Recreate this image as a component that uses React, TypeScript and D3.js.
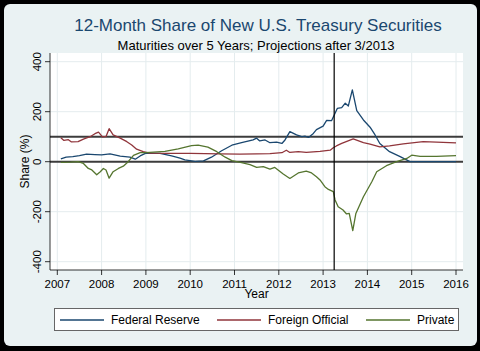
import React from "react";
import * as d3 from "d3";

const fedYears = [2007.08, 2007.2, 2007.35, 2007.5, 2007.66, 2007.85, 2008.0, 2008.19, 2008.42, 2008.64, 2008.76, 2008.87, 2009.0, 2009.32, 2009.58, 2009.77, 2009.88, 2010.11, 2010.3, 2010.48, 2010.71, 2010.94, 2011.16, 2011.35, 2011.42, 2011.5, 2011.57, 2011.69, 2011.8, 2011.95, 2012.07, 2012.14, 2012.25, 2012.4, 2012.52, 2012.59, 2012.67, 2012.78, 2012.85, 2013.0, 2013.08, 2013.19, 2013.27, 2013.32, 2013.42, 2013.5, 2013.57, 2013.66, 2013.76, 2013.91, 2014.06, 2014.17, 2014.28, 2014.5, 2014.74, 2014.96, 2016.0];
const fedValues = [11, 18, 20, 24, 30, 28, 27, 31, 22, 18, 10, 23, 34, 33, 23, 14, 7, 1, 3, 18, 44, 66, 76, 84, 87, 94, 83, 87, 76, 78, 73, 87, 120, 107, 100, 102, 97, 113, 128, 142, 165, 164, 194, 213, 216, 234, 223, 287, 204, 167, 138, 108, 73, 40, 20, 0, 0];

const forYears = [2007.08, 2007.15, 2007.25, 2007.32, 2007.47, 2007.59, 2007.74, 2007.85, 2007.93, 2008.02, 2008.1, 2008.17, 2008.26, 2008.42, 2008.57, 2008.68, 2008.79, 2008.94, 2009.09, 2009.5, 2010.0, 2010.67, 2011.12, 2011.5, 2011.8, 2012.07, 2012.17, 2012.25, 2012.44, 2012.62, 2012.93, 2013.16, 2013.23, 2013.3, 2013.42, 2013.68, 2013.91, 2014.06, 2014.28, 2014.5, 2014.81, 2015.26, 2015.56, 2016.0];
const forValues = [96, 85, 88, 79, 80, 90, 100, 112, 118, 99, 101, 132, 107, 94, 80, 67, 50, 40, 34, 33, 33, 31, 30, 31, 32, 36, 46, 37, 40, 37, 41, 46, 56, 63, 73, 91, 76, 70, 59, 63, 71, 80, 78, 75];

const priYears = [2007.08, 2007.3, 2007.47, 2007.59, 2007.7, 2007.78, 2007.89, 2007.97, 2008.04, 2008.1, 2008.17, 2008.26, 2008.38, 2008.49, 2008.6, 2008.72, 2008.87, 2009.0, 2009.43, 2009.73, 2010.03, 2010.18, 2010.4, 2010.6, 2010.79, 2010.94, 2011.16, 2011.35, 2011.5, 2011.65, 2011.8, 2011.91, 2012.1, 2012.25, 2012.44, 2012.62, 2012.74, 2012.85, 2012.93, 2013.04, 2013.12, 2013.23, 2013.27, 2013.34, 2013.45, 2013.53, 2013.59, 2013.67, 2013.74, 2013.91, 2014.1, 2014.21, 2014.43, 2014.66, 2014.89, 2015.0, 2015.19, 2015.56, 2016.0];
const priValues = [-3, -2, 0, -7, -27, -33, -52, -40, -27, -33, -66, -40, -27, -18, 0, 25, 36, 36, 41, 51, 64, 66, 58, 40, 18, 4, -4, -12, -23, -20, -30, -23, -49, -67, -45, -38, -45, -60, -73, -100, -111, -120, -153, -180, -193, -209, -207, -276, -207, -140, -80, -40, -16, 0, 13, 26, 21, 21, 24];

const xTicks = [2007, 2008, 2009, 2010, 2011, 2012, 2013, 2014, 2015, 2016];
const yTicks = [-400, -200, 0, 200, 400];
const refValues = [0, 100];
const projectionStart = 2013.25;

const seriesNames = ["Federal Reserve", "Foreign Official", "Private"];
const seriesColors = ["#1a476f", "#90353b", "#55752f"];

const W = 480;
const H = 351;
const plotLeft = 50;
const plotRight = 463;
const plotTop = 53;
const plotBottom = 270;

export default function App() {
  const x = d3.scaleLinear().domain([2007, 2016]).range([57.3, 456]);
  const y = d3.scaleLinear().domain([-400, 400]).range([261.7, 61.7]);
  const line = d3
    .line<[number, number]>()
    .x((d) => x(d[0]))
    .y((d) => y(d[1]));

  const series = [
    { years: fedYears, values: fedValues },
    { years: forYears, values: forValues },
    { years: priYears, values: priValues },
  ];

  const font = "Liberation Sans, Arial, sans-serif";
  const legendItemsX = [60, 217, 366];

  return (
    <svg
      width={W}
      height={H}
      style={{ position: "absolute", left: 0, top: 0 }}
      fontFamily={font}
    >
      <rect x={0} y={0} width={W} height={H} fill="#000" />
      <rect x={4} y={4} width={473} height={342} rx={6} fill="#eaf2f3" />
      <rect
        x={plotLeft}
        y={plotTop}
        width={plotRight - plotLeft}
        height={plotBottom - plotTop}
        fill="#ffffff"
      />
      {xTicks.map((t) => (
        <line
          key={"gx" + t}
          x1={x(t)}
          x2={x(t)}
          y1={plotTop}
          y2={plotBottom}
          stroke="#e4ecee"
          strokeWidth={1}
        />
      ))}
      {yTicks.map((t) => (
        <line
          key={"gy" + t}
          x1={plotLeft}
          x2={plotRight}
          y1={y(t)}
          y2={y(t)}
          stroke="#e4ecee"
          strokeWidth={1}
        />
      ))}
      {refValues.map((v) => (
        <line
          key={"ref" + v}
          x1={plotLeft}
          x2={plotRight}
          y1={y(v)}
          y2={y(v)}
          stroke="#3c3c3c"
          strokeWidth={2}
        />
      ))}
      {series.map((s, i) => (
        <path
          key={"s" + i}
          d={line(s.years.map((yr, j) => [yr, s.values[j]] as [number, number])) || ""}
          fill="none"
          stroke={seriesColors[i]}
          strokeWidth={1.3}
          strokeLinejoin="round"
        />
      ))}
      <line
        x1={x(projectionStart)}
        x2={x(projectionStart)}
        y1={plotTop}
        y2={plotBottom}
        stroke="#000"
        strokeWidth={1.2}
      />
      <line x1={plotLeft} x2={plotLeft} y1={plotTop} y2={plotBottom} stroke="#000" strokeWidth={0.8} />
      <line x1={plotLeft} x2={plotRight} y1={plotBottom} y2={plotBottom} stroke="#000" strokeWidth={0.8} />
      {xTicks.map((t) => (
        <g key={"xt" + t}>
          <line x1={x(t)} x2={x(t)} y1={plotBottom} y2={plotBottom + 5} stroke="#000" strokeWidth={0.8} />
          <text x={x(t)} y={288} textAnchor="middle" fontSize={11.5} fill="#000">
            {t}
          </text>
        </g>
      ))}
      {yTicks.map((t) => (
        <g key={"yt" + t}>
          <line x1={plotLeft - 5} x2={plotLeft} y1={y(t)} y2={y(t)} stroke="#000" strokeWidth={0.8} />
          <text
            transform={`translate(41,${y(t)}) rotate(-90)`}
            textAnchor="middle"
            fontSize={11.5}
            fill="#000"
          >
            {t}
          </text>
        </g>
      ))}
      <text
        transform={`translate(29,${(plotTop + plotBottom) / 2}) rotate(-90)`}
        textAnchor="middle"
        fontSize={12}
        fill="#000"
      >
        Share (%)
      </text>
      <text x={(plotLeft + plotRight) / 2} y={298} textAnchor="middle" fontSize={12} fill="#000">
        Year
      </text>
      <text x={258} y={31} textAnchor="middle" fontSize={17} fill="#1a476f">
        12-Month Share of New U.S. Treasury Securities
      </text>
      <text x={256} y={50} textAnchor="middle" fontSize={13} fill="#000">
        Maturities over 5 Years; Projections after 3/2013
      </text>
      <rect x={54.5} y={308.5} width={404} height={22} fill="#fff" stroke="#666" strokeWidth={1} />
      {seriesNames.map((name, i) => (
        <g key={"lg" + i}>
          <line
            x1={legendItemsX[i]}
            x2={legendItemsX[i] + 44}
            y1={320}
            y2={320}
            stroke={seriesColors[i]}
            strokeWidth={1.3}
          />
          <text x={legendItemsX[i] + 51} y={324} fontSize={12} fill="#000">
            {name}
          </text>
        </g>
      ))}
    </svg>
  );
}
